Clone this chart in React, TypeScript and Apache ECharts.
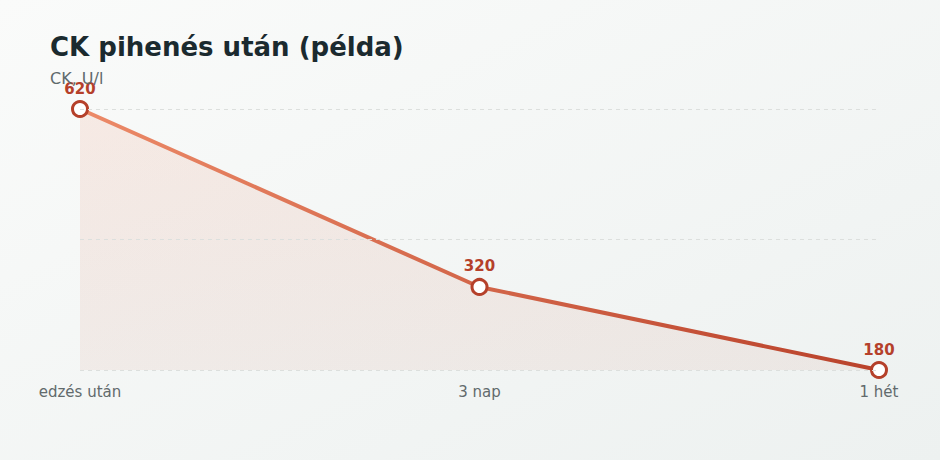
import { useEffect, useRef } from 'react'
import * as echarts from 'echarts'

const categories = ['edzés után', '3 nap', '1 hét']
const ckValues = [620, 320, 180]
const gridValues = [180, 400, 620]

export default function App() {
  const chartRef = useRef<HTMLDivElement | null>(null)

  useEffect(() => {
    if (!chartRef.current) return
    const chart = echarts.init(chartRef.current, undefined, { renderer: 'svg' })

    chart.setOption({
      animation: false,
      backgroundColor: new echarts.graphic.LinearGradient(0, 0, 1, 1, [
        { offset: 0, color: '#fafbfa' },
        { offset: 1, color: '#edf1f0' }
      ]),
      textStyle: { fontFamily: 'DejaVu Sans, sans-serif' },
      title: {
        text: 'CK pihenés után (példa)',
        subtext: 'CK, U/l',
        left: 50,
        top: 34,
        padding: 0,
        itemGap: 10,
        textStyle: { fontSize: 26, fontWeight: 'bold', color: '#1b2a2f' },
        subtextStyle: { fontSize: 16, color: '#5f6a6c' }
      },
      grid: { left: 80, right: 61, top: 109, bottom: 90 },
      xAxis: {
        type: 'category',
        data: categories,
        boundaryGap: false,
        axisLine: { show: false },
        axisTick: { show: false },
        axisLabel: { color: '#626a6c', fontSize: 15, margin: 14 }
      },
      yAxis: {
        type: 'value',
        min: 180,
        max: 620,
        axisLabel: { show: false },
        axisLine: { show: false },
        axisTick: { show: false },
        splitLine: { show: false }
      },
      series: [
        {
          type: 'line',
          data: ckValues,
          symbol: 'circle',
          symbolSize: 15,
          lineStyle: {
            width: 4,
            color: new echarts.graphic.LinearGradient(0, 0, 1, 0, [
              { offset: 0, color: '#ec8a68' },
              { offset: 1, color: '#b9412a' }
            ])
          },
          itemStyle: { color: '#ffffff', borderColor: '#b5402a', borderWidth: 3 },
          areaStyle: {
            origin: 'start',
            color: new echarts.graphic.LinearGradient(0, 0, 0, 1, [
              { offset: 0, color: 'rgba(236, 138, 104, 0.2)' },
              { offset: 1, color: 'rgba(190, 80, 50, 0.1)' }
            ])
          },
          label: {
            show: true,
            position: 'top',
            distance: 4,
            color: '#b5402a',
            fontSize: 15,
            fontWeight: 'bold'
          },
          markLine: {
            silent: true,
            symbol: 'none',
            label: { show: false },
            lineStyle: { color: '#dcdfdd', type: [4, 4], width: 1 },
            data: gridValues.map((v) => ({ yAxis: v }))
          },
          z: 3
        }
      ]
    })

    return () => chart.dispose()
  }, [])

  return <div ref={chartRef} style={{ position: 'fixed', left: 0, top: 0, width: 940, height: 460 }} />
}
